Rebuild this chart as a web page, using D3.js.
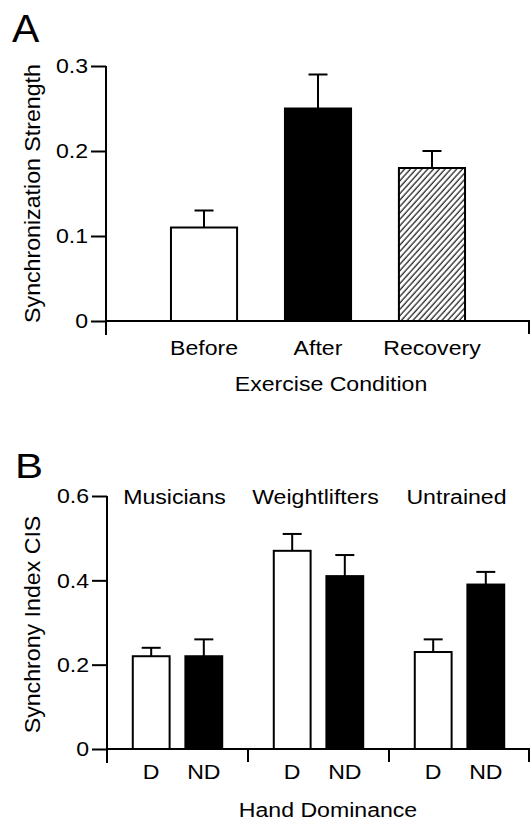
<!DOCTYPE html>
<html>
<head>
<meta charset="utf-8">
<script src="https://cdn.jsdelivr.net/npm/d3@7"></script>
<style>
  html, body { margin: 0; padding: 0; background: #fff; }
  svg { display: block; }
  text { font-family: "Liberation Sans", Arial, Helvetica, sans-serif; fill: #000; }
</style>
</head>
<body>
<svg id="fig" width="531" height="822"></svg>
<script>
// Panel A: synchronization strength by exercise condition
const conditions = ["Before", "After", "Recovery"];
const syncStrength = [0.11, 0.25, 0.18];
const syncError = [0.02, 0.04, 0.02];
const conditionFill = ["white", "black", "hatch"];
const ticksA = [0, 0.1, 0.2, 0.3];

// Panel B: synchrony index by group and hand
const groups = ["Musicians", "Weightlifters", "Untrained"];
const hands = ["D", "ND"];
const dominantCIS = [0.22, 0.47, 0.23];
const dominantErr = [0.02, 0.04, 0.03];
const nonDominantCIS = [0.22, 0.41, 0.39];
const nonDominantErr = [0.04, 0.05, 0.03];
const handFill = ["white", "black"];
const ticksB = [0, 0.2, 0.4, 0.6];

const FONT = 21;        // base font size
const WIDE = 1.1;       // horizontal stretch of the lettering
const LW = 2;           // line weight

const svg = d3.select("#fig");

const defs = svg.append("defs");
defs.append("pattern")
  .attr("id", "hatch")
  .attr("patternUnits", "userSpaceOnUse")
  .attr("width", 4.3).attr("height", 4.3)
  .attr("patternTransform", "rotate(42)")
  .call(p => {
    p.append("rect").attr("width", 4.3).attr("height", 4.3).attr("fill", "white");
    p.append("line").attr("x1", 1).attr("y1", 0).attr("x2", 1).attr("y2", 4.3)
      .attr("stroke", "black").attr("stroke-width", 1.1);
  });

function fillOf(f) { return f === "hatch" ? "url(#hatch)" : f; }

// wide lettering: scale text horizontally around its anchor
function label(g, str, x, y, opts = {}) {
  const size = opts.size || FONT;
  const sx = opts.sx || WIDE;
  const rot = opts.rotate ? ` rotate(${opts.rotate})` : "";
  return g.append("text")
    .attr("transform", `translate(${x},${y})${rot} scale(${sx},1)`)
    .attr("text-anchor", opts.anchor || "middle")
    .attr("font-size", size)
    .text(str);
}

function styleYAxis(g) {
  g.select(".domain").remove();
  g.selectAll(".tick line").attr("stroke", "#000").attr("stroke-width", LW);
  g.selectAll(".tick text")
    .attr("font-size", FONT)
    .attr("font-family", "Liberation Sans, Arial, sans-serif")
    .attr("fill", "#000")
    .each(function () {
      const t = d3.select(this);
      const x = +t.attr("x");
      t.attr("x", x / WIDE).attr("transform", `scale(${WIDE},1)`);
    });
}

function errorBars(g, data, cap) {
  g.selectAll(null).data(data).join("line")
    .attr("x1", d => d.cx).attr("x2", d => d.cx)
    .attr("y1", d => d.y0).attr("y2", d => d.y1)
    .attr("stroke", "#000").attr("stroke-width", LW);
  g.selectAll(null).data(data).join("line")
    .attr("x1", d => d.cx - cap / 2).attr("x2", d => d.cx + cap / 2)
    .attr("y1", d => d.y1).attr("y2", d => d.y1)
    .attr("stroke", "#000").attr("stroke-width", LW);
}

// ---------------- Panel A ----------------
{
  const g = svg.append("g");
  const x = d3.scaleBand().domain(conditions).range([106, 530])
    .paddingInner(0.42).paddingOuter(0.57);
  const y = d3.scaleLinear().domain([0, 0.3]).range([321, 66]);

  label(g, "A", 12, 42, { size: 39, anchor: "start", sx: 1.05 });

  g.append("g").attr("transform", "translate(106,0)")
    .call(d3.axisLeft(y).tickValues(ticksA).tickSize(15).tickPadding(3)
      .tickFormat(d => d === 0 ? "0" : d3.format(".1f")(d)))
    .call(styleYAxis);

  // axis frame
  g.append("line").attr("x1", 106).attr("x2", 106)
    .attr("y1", y(0.3)).attr("y2", y(0) + 14)
    .attr("stroke", "#000").attr("stroke-width", LW);
  g.append("line").attr("x1", 106).attr("x2", x.range()[1])
    .attr("y1", y(0)).attr("y2", y(0))
    .attr("stroke", "#000").attr("stroke-width", LW);
  g.append("line").attr("x1", x.range()[1] - 1).attr("x2", x.range()[1] - 1)
    .attr("y1", y(0)).attr("y2", y(0) + 13)
    .attr("stroke", "#000").attr("stroke-width", LW);

  const data = conditions.map((c, i) => ({
    c, v: syncStrength[i], e: syncError[i], f: conditionFill[i]
  }));

  errorBars(g, data.map(d => ({
    cx: x(d.c) + x.bandwidth() / 2, y0: y(d.v), y1: y(d.v + d.e)
  })), 19);

  g.selectAll(null).data(data).join("rect")
    .attr("x", d => x(d.c)).attr("width", x.bandwidth())
    .attr("y", d => y(d.v)).attr("height", d => y(0) - y(d.v))
    .attr("fill", d => fillOf(d.f))
    .attr("stroke", "#000").attr("stroke-width", LW);

  conditions.forEach(c => label(g, c, x(c) + x.bandwidth() / 2, 355));
  label(g, "Exercise Condition", 331, 391);
  label(g, "Synchronization Strength", 40, (y(0) + y(0.3)) / 2, { rotate: -90, size: 22.5, sx: 1.03 });
}

// ---------------- Panel B ----------------
{
  const g = svg.append("g");
  const x0 = d3.scaleBand().domain(groups).range([107, 530]).padding(0);
  const x1 = d3.scaleBand().domain(hands).range([0, x0.bandwidth()])
    .paddingInner(0.3).paddingOuter(0.49);
  const y = d3.scaleLinear().domain([0, 0.6]).range([749, 496]);

  label(g, "B", 15, 478, { size: 35, anchor: "start", sx: 1.2 });

  g.append("g").attr("transform", "translate(107,0)")
    .call(d3.axisLeft(y).tickValues(ticksB).tickSize(15).tickPadding(3)
      .tickFormat(d => d === 0 ? "0" : d3.format(".1f")(d)))
    .call(styleYAxis);

  g.append("line").attr("x1", 107).attr("x2", 107)
    .attr("y1", y(0.6)).attr("y2", y(0) + 14)
    .attr("stroke", "#000").attr("stroke-width", LW);
  g.append("line").attr("x1", 107).attr("x2", 530)
    .attr("y1", y(0)).attr("y2", y(0))
    .attr("stroke", "#000").attr("stroke-width", LW);
  // group separators
  g.selectAll(null).data(groups).join("line")
    .attr("x1", d => Math.min(x0(d) + x0.bandwidth(), 529))
    .attr("x2", d => Math.min(x0(d) + x0.bandwidth(), 529))
    .attr("y1", y(0)).attr("y2", y(0) + 13)
    .attr("stroke", "#000").attr("stroke-width", LW);

  const data = [];
  groups.forEach((grp, i) => {
    data.push({ grp, h: "D", v: dominantCIS[i], e: dominantErr[i], f: handFill[0] });
    data.push({ grp, h: "ND", v: nonDominantCIS[i], e: nonDominantErr[i], f: handFill[1] });
  });

  errorBars(g, data.map(d => ({
    cx: x0(d.grp) + x1(d.h) + x1.bandwidth() / 2, y0: y(d.v), y1: y(d.v + d.e)
  })), 19);

  g.selectAll(null).data(data).join("rect")
    .attr("x", d => x0(d.grp) + x1(d.h)).attr("width", x1.bandwidth())
    .attr("y", d => y(d.v)).attr("height", d => y(0) - y(d.v))
    .attr("fill", d => fillOf(d.f))
    .attr("stroke", "#000").attr("stroke-width", LW);

  groups.forEach(grp => {
    label(g, grp, x0(grp) + x0.bandwidth() / 2 - 3, 504);
    hands.forEach(h => label(g, h, x0(grp) + x1(h) + x1.bandwidth() / 2, 779));
  });
  label(g, "Hand Dominance", 328, 817);
  label(g, "Synchrony Index CIS", 40, (y(0) + y(0.6)) / 2 + 2, { rotate: -90, size: 22.5, sx: 1.03 });
}
</script>
</body>
</html>
